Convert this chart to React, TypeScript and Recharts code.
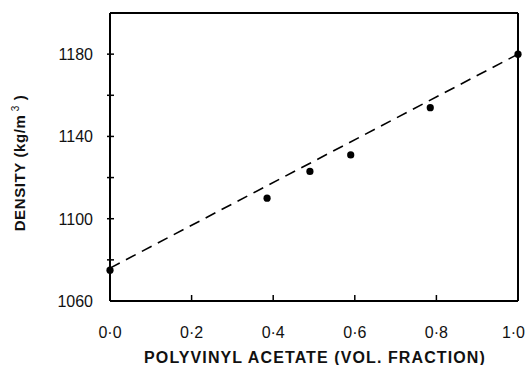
import React from "react";
import {
  ComposedChart,
  XAxis,
  YAxis,
  Scatter,
  Line,
  ReferenceLine,
  Label,
} from "recharts";

const pointX = [0, 0.385, 0.49, 0.59, 0.785, 1.0];
const pointY = [1075, 1110, 1123, 1131, 1154, 1180];
const fitX = [0, 1.0];
const fitY = [1076, 1180];
const xTicks = [0, 0.2, 0.4, 0.6, 0.8, 1.0];
const xTickLabels = ["0·0", "0·2", "0·4", "0·6", "0·8", "1·0"];
const yTicks = [1060, 1080, 1100, 1120, 1140, 1160, 1180, 1200];
const yTickLabels: Record<number, string> = {
  1060: "1060",
  1100: "1100",
  1140: "1140",
  1180: "1180",
};

const points = pointX.map((x, i) => ({ x, y: pointY[i] }));
const fit = fitX.map((x, i) => ({ x, y: fitY[i] }));

const FONT = "'Liberation Sans', Arial, sans-serif";
const AXIS_X = 110;
const AXIS_Y = 301;

const YTick = (props: any) => {
  const { y, payload } = props;
  const label = yTickLabels[payload.value];
  return (
    <g>
      {payload.value !== 1060 && payload.value !== 1200 && (
        <line x1={AXIS_X - 3} x2={AXIS_X + 4} y1={y} y2={y} stroke="#000" strokeWidth={1.5} />
      )}
      {label && (
        <text x={93} y={y + 6} textAnchor="end" fontFamily={FONT} fontSize={16} fill="#111">
          {label}
        </text>
      )}
    </g>
  );
};

const XTick = (props: any) => {
  const { x, payload, index } = props;
  const i = xTicks.indexOf(payload.value);
  const isLast = payload.value === 1;
  return (
    <g>
      {payload.value !== 0 && payload.value !== 1 && (
        <line x1={x} x2={x} y1={AXIS_Y} y2={AXIS_Y - 6} stroke="#000" strokeWidth={1.5} />
      )}
      <text
        x={isLast ? 525 : x}
        y={338}
        textAnchor={isLast ? "end" : "middle"}
        fontFamily={FONT}
        fontSize={16}
        fill="#111"
      >
        {xTickLabels[i >= 0 ? i : index]}
      </text>
    </g>
  );
};

const Dot = (props: any) => (
  <circle cx={props.cx} cy={props.cy} r={3.6} fill="#000" />
);

export default function App() {
  return (
    <div style={{ position: "absolute", left: 0, top: 0, background: "#fff" }}>
      <ComposedChart
        width={527}
        height={365}
        margin={{ top: 13, right: 9, left: 0, bottom: 0 }}
      >
        <XAxis
          dataKey="x"
          type="number"
          domain={[0, 1]}
          ticks={xTicks}
          allowDuplicatedCategory={false}
          height={64}
          axisLine={{ stroke: "#000", strokeWidth: 2 }}
          tickLine={false}
          tick={<XTick />}
          interval={0}
        >
          <Label
            content={() => (
              <text
                x={315}
                y={363}
                textAnchor="middle"
                fontFamily={FONT}
                fontWeight="bold"
                fontSize={16}
                letterSpacing={1.1}
                fill="#111"
              >
                POLYVINYL ACETATE (VOL. FRACTION)
              </text>
            )}
          />
        </XAxis>
        <YAxis
          type="number"
          domain={[1060, 1200]}
          ticks={yTicks}
          width={110}
          axisLine={{ stroke: "#000", strokeWidth: 2 }}
          tickLine={false}
          tick={<YTick />}
          interval={0}
        >
          <Label
            content={() => (
              <text
                x={25}
                y={163}
                transform="rotate(-90, 25, 163)"
                textAnchor="middle"
                fontFamily={FONT}
                fontWeight="bold"
                fontSize={15}
                letterSpacing={0.6}
                fill="#111"
              >
                DENSITY (kg/m
                <tspan fontSize={10} dy={-6} fontWeight="normal"> 3</tspan>
                <tspan dy={6}> )</tspan>
              </text>
            )}
          />
        </YAxis>
        <ReferenceLine y={1200} stroke="#000" strokeWidth={2} />
        <ReferenceLine x={1} stroke="#000" strokeWidth={2} />
        <Line
          data={fit}
          dataKey="y"
          type="linear"
          stroke="#000"
          strokeWidth={1.6}
          strokeDasharray="11 7"
          dot={false}
          activeDot={false}
          isAnimationActive={false}
        />
        <Scatter data={points} dataKey="y" shape={<Dot />} isAnimationActive={false} />
      </ComposedChart>
    </div>
  );
}
